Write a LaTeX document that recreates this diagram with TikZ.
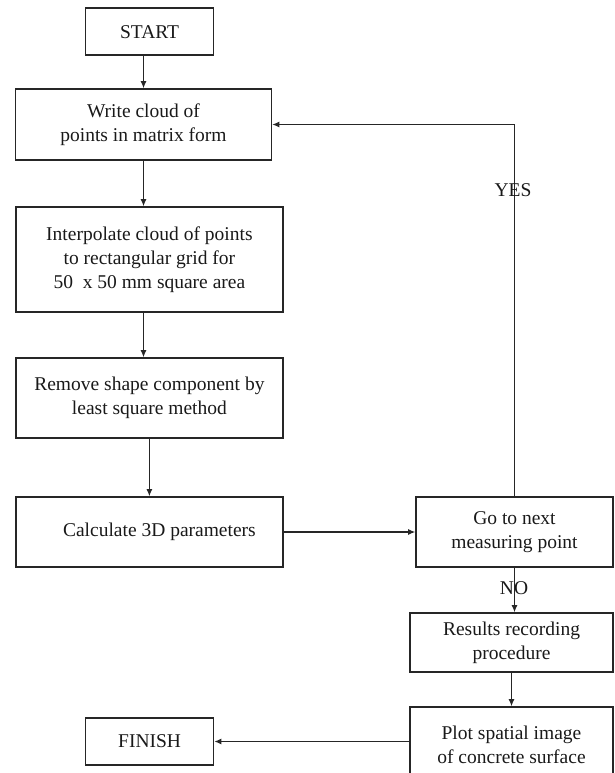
\documentclass[tikz,border=0pt]{standalone}
\usepackage{fontspec}
\setmainfont{Liberation Serif}
\usetikzlibrary{arrows.meta}
\begin{document}
\begin{tikzpicture}[x=1pt,y=-1pt,
  box/.style={draw=black!85, line width=1.6pt, align=center, inner sep=0pt,
    font=\fontsize{19.5}{24}\selectfont, text=black!90},
  conn/.style={draw=black!85, line width=1.1pt, -{Latex[length=7pt,width=6pt]}},
  lbl/.style={font=\fontsize{19.5}{24}\selectfont, inner sep=0pt, text=black!90}]
\useasboundingbox (0,0) rectangle (615,773);
\clip (0,0) rectangle (615,773);
\node[box, minimum width=128pt, minimum height=47pt] (start) at (149.6,31.7) {START};
\node[box, minimum width=256pt, minimum height=71pt] (write) at (143.5,124.5) {Write cloud of\\points in matrix form};
\node[box, minimum width=267pt, minimum height=105pt] (interp) at (149.4,259.5) {Interpolate cloud of points\\to rectangular grid for\\50\ \ x 50 mm square area};
\node[box, minimum width=267pt, minimum height=80pt] (remove) at (149.4,398) {Remove shape component by\\least square method};
\node[box, minimum width=267pt, minimum height=70pt] (calc) at (149.4,532) {\hspace*{20pt}Calculate 3D parameters};
\node[box, minimum width=197pt, minimum height=70pt] (go) at (514.5,532) {Go to next\\measuring point};
\node[box, minimum width=203pt, minimum height=59pt] (results) at (511.5,642.5) {Results recording\\procedure};
\node[box, minimum width=203pt, minimum height=76pt] (plot) at (511.5,745) {Plot spatial image\\of concrete surface};
\node[box, minimum width=128pt, minimum height=47pt] (finish) at (149.6,741.5) {FINISH};

\draw[conn] (write.north |- start.south) -- (write.north);
\draw[conn] (write.south) -- (write.south |- interp.north);
\draw[conn] (write.south |- interp.south) -- (write.south |- remove.north);
\draw[conn] (remove.south) -- (calc.north);
\draw[conn] (calc.east) -- (go.west);
\coordinate (turn) at (go.north |- write.east);
\draw[conn] (go.north) -- (turn) -- (write.east);
\draw[conn] (go.south) -- (go.south |- results.north);
\draw[conn] (results.south) -- (results.south |- plot.north);
\draw[conn] (plot.west |- finish.east) -- (finish.east);

\node[lbl] (yes) at (513,190) {YES};
\node[lbl] (no) at (514,588) {NO};
\end{tikzpicture}
\end{document}
